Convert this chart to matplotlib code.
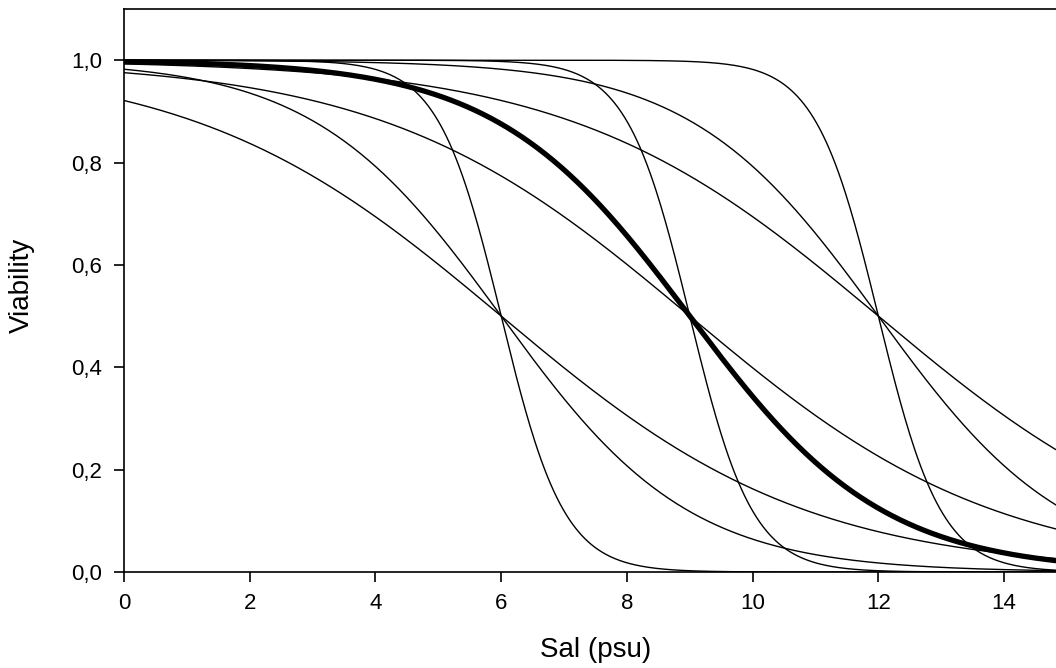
import numpy as np
import matplotlib.pyplot as plt
from matplotlib.ticker import FuncFormatter

plt.rcParams['font.family'] = ['Liberation Sans', 'DejaVu Sans']

# Logistic viability curves: 1 / (1 + exp(slope * (sal - mid)))
midpoints = [6, 6, 6, 9, 9, 9, 12, 12, 12]
slopes = [0.41, 0.67, 2.0, 0.41, 0.65, 2.0, 0.41, 0.67, 2.0]
thick_curve = 4  # midpoint 9, medium slope

x_ticks = [0, 2, 4, 6, 8, 10, 12, 14]
y_ticks = [0.0, 0.2, 0.4, 0.6, 0.8, 1.0]

fig = plt.figure(figsize=(10.56, 6.68), dpi=100)
ax = fig.add_axes([0.1174, 0.1437, 0.893, 0.8428])

sal = np.linspace(0, 15, 600)
for i, (m, k) in enumerate(zip(midpoints, slopes)):
    via = 1.0 / (1.0 + np.exp(k * (sal - m)))
    lw = 3.8 if i == thick_curve else 1.0
    ax.plot(sal, via, color='black', lw=lw, solid_capstyle='butt')

ax.set_xlim(0, 15)
ax.set_ylim(0, 1.1)
ax.set_xticks(x_ticks)
ax.set_yticks(y_ticks)
ax.yaxis.set_major_formatter(FuncFormatter(lambda v, p: f"{v:.1f}".replace('.', ',')))

ax.tick_params(direction='out', length=7, width=1.2, labelsize=16, colors='black')
ax.tick_params(axis='x', pad=8)
ax.tick_params(axis='y', pad=9)
for s in ax.spines.values():
    s.set_linewidth(1.2)

ax.set_xlabel("Sal (psu)", fontsize=20)
ax.set_ylabel("Viability", fontsize=20)
ax.xaxis.set_label_coords(0.5, -0.115)
ax.yaxis.set_label_coords(-0.094, 0.51)

fig.savefig("out.png", dpi=100)
